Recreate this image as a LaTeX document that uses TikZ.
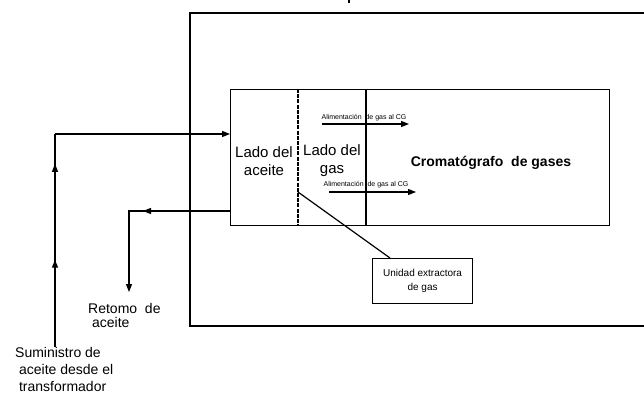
\documentclass[tikz,border=0pt]{standalone}
\usepackage{fontspec}
\setmainfont{Liberation Sans}
\usetikzlibrary{arrows.meta,decorations.markings}
\begin{document}
\begin{tikzpicture}[x=1pt,y=-1pt,
  line/.style={line width=1.2pt},
  tip/.style={-{Triangle[length=8pt,width=6pt]}},
  twotips/.style={postaction={decorate},decoration={markings,
     mark=at position 0.41 with {\arrow{Triangle[length=8pt,width=6pt]}},
     mark=at position 0.86 with {\arrow{Triangle[length=8pt,width=6pt]}}}},
  lbl/.style={font=\fontsize{14}{17}\selectfont,align=left,inner sep=0pt},
  side/.style={font=\fontsize{15}{18}\selectfont,align=center,inner sep=0pt},
  tiny/.style={font=\fontsize{7}{7}\selectfont,inner sep=0pt}]
\useasboundingbox (0,0) rectangle (644,394);
% outer enclosure (open to the right)
\draw[line] (660,13) -- (190,13) -- (190,326) -- (660,326);
\fill (348,0) rectangle (350,3);
% inner box
\node[draw,line,minimum width=379pt,minimum height=136pt,inner sep=0pt,anchor=north west] (cg) at (230,89) {};
\coordinate (dtop) at (298,89);
\coordinate (dbot) at (298,225);
\coordinate (stop) at (366,89);
\coordinate (sbot) at (366,225);
\draw[line width=1.6pt,dash pattern=on 4pt off 1.2pt] (dtop) -- (dbot);
\draw[line] (stop) -- (sbot);
\node[side] (ladoa) at (264,161) {Lado del\\aceite};
\node[side] (ladog) at (332,161) {Lado del\\gas};
\node[inner sep=0pt] (crom) at (491,163) {\fontsize{14}{16}\selectfont\bfseries Cromatógrafo\ \ de gases};
% gas feed arrows
\coordinate (g1a) at (322,124); \coordinate (g1b) at (409,124);
\coordinate (g2a) at (329,192); \coordinate (g2b) at (416,192);
\draw[line,tip] (g1a) -- (g1b);
\draw[line,tip] (g2a) -- (g2b);
\node[tiny,anchor=south] (al1) at (364,121) {Alimentación \ de gas al CG};
\node[tiny,anchor=south] (al2) at (366,188) {Alimentación \ de gas al CG};
% extractor unit
\node[draw,line,minimum width=100pt,minimum height=45pt,inner sep=0pt,anchor=north west,
  font=\fontsize{10}{14}\selectfont,align=center] (ext) at (372,258) {Unidad extractora\\de gas};
\coordinate (dj) at (298,192);
\coordinate (ej) at (390,258);
\draw[line] (dj) -- (ej);
% oil supply
\coordinate (s0) at (55,347);
\coordinate (s1) at (55,134);
\draw[line,twotips] (s0) -- (s1);
\draw[line,tip] (s1) -- (cg.west |- s1);
% oil return
\coordinate (r1) at (129,211);
\coordinate (r2) at (129,292);
\draw[line,tip] (cg.west |- r1) -- (r1) -- (r2);
\coordinate (rm) at (143,211);
\draw[line,tip] (180,211) -- (rm);
% labels
\node[lbl,anchor=north west,font=\fontsize{14}{14}\selectfont] (ret) at (88,303) {Retomo\ \ de\\\ aceite};
\node[lbl,anchor=north west] (sum) at (15,347) {Suministro de\\\ aceite desde el\\\ transformador};
\end{tikzpicture}
\end{document}
